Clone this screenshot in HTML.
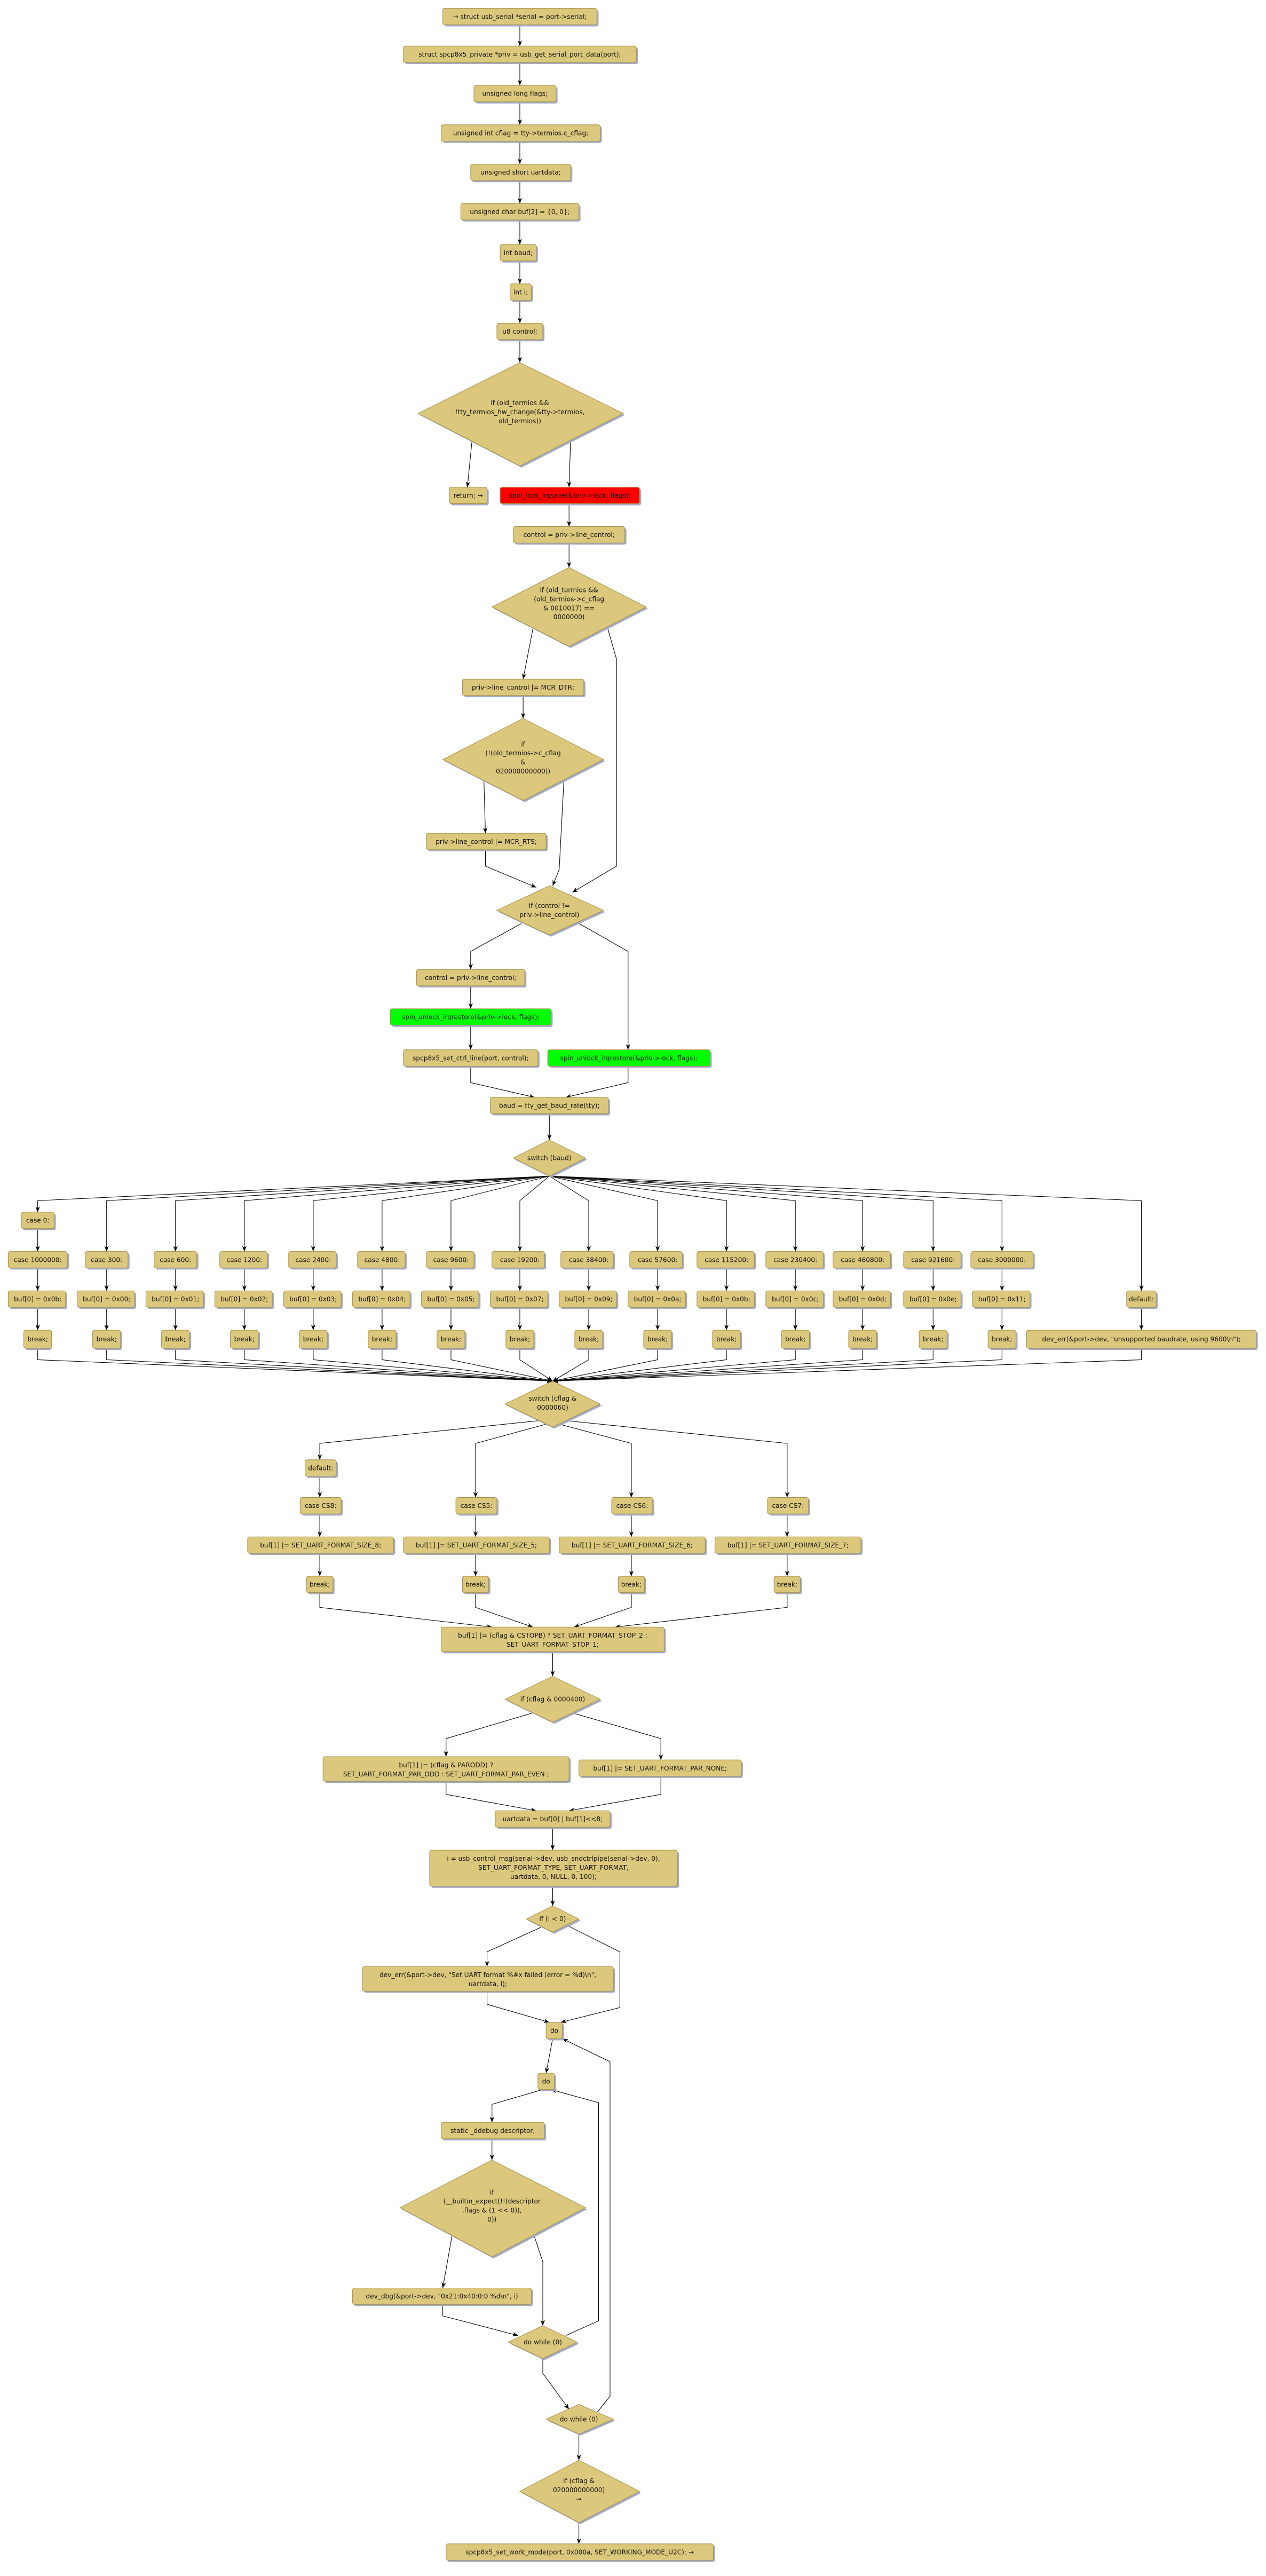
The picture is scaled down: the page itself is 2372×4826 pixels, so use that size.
<!DOCTYPE html>
<html><head><meta charset="utf-8"><style>
html,body{margin:0;padding:0;background:#fff}
svg{display:block}
.s{fill:#a3abc6}
.n{fill:#dcc87c;stroke:#a8914a;stroke-width:0.35}
.r{fill:#ff0000;stroke:#a8914a;stroke-width:0.35}
.g{fill:#00ff00;stroke:#a8914a;stroke-width:0.35}
text{font-family:"DejaVu Sans","Liberation Sans",sans-serif;font-size:3.95px;text-anchor:middle;fill:#111}
.e{fill:none;stroke:#000;stroke-width:0.35;marker-end:url(#a)}
</style></head><body>
<svg width="2372" height="4826" viewBox="0 0 772 1570.5" xmlns="http://www.w3.org/2000/svg">
<defs><marker id="a" viewBox="0 0 10 10" refX="10" refY="5" markerWidth="3.4" markerHeight="3.4" markerUnits="userSpaceOnUse" orient="auto"><path d="M0,1 L10,5 L0,9 L3,5 z" fill="#000"/></marker></defs>

<!-- edges -->
<path class="e" d="M317,15 V28"/>
<path class="e" d="M317,38 V52"/>
<path class="e" d="M317,62 V76"/>
<path class="e" d="M317,86 V100"/>
<path class="e" d="M317,110 V124"/>
<path class="e" d="M317,134 V149"/>
<path class="e" d="M317,159 V173"/>
<path class="e" d="M317,183 V197"/>
<path class="e" d="M317,207 V221"/>
<path class="e" d="M288,267 L285,297"/>
<path class="e" d="M348,267 L347,297"/>
<path class="e" d="M347,307 V321"/>
<path class="e" d="M347,331 V346"/>
<path class="e" d="M325,383 L319,414"/>
<path class="e" d="M370,381 L376,402 V528 L349,544"/>
<path class="e" d="M319,424 V438"/>
<path class="e" d="M295,473 L296,508"/>
<path class="e" d="M344,473 L341,530 L337,540"/>
<path class="e" d="M296,518 V528 L327,541"/>
<path class="e" d="M318,563 L287,580 V591"/>
<path class="e" d="M353,563 L383,580 V640"/>
<path class="e" d="M287,601 V615"/>
<path class="e" d="M287,625 V640"/>
<path class="e" d="M287,650 V660 L326,669"/>
<path class="e" d="M383,650 V660 L345,669"/>
<path class="e" d="M335,679 V695"/>

<path class="e" d="M335,717 L23,732 V739"/>
<path class="e" d="M23,749 V763"/>
<path class="e" d="M335,717 L65,732 V763"/>
<path class="e" d="M335,717 L107,732 V763"/>
<path class="e" d="M335,717 L149,732 V763"/>
<path class="e" d="M335,717 L191,732 V763"/>
<path class="e" d="M335,717 L233,732 V763"/>
<path class="e" d="M335,717 L275,732 V763"/>
<path class="e" d="M335,717 L317,732 V763"/>
<path class="e" d="M335,717 L359,732 V763"/>
<path class="e" d="M335,717 L401,732 V763"/>
<path class="e" d="M335,717 L443,732 V763"/>
<path class="e" d="M335,717 L485,732 V763"/>
<path class="e" d="M335,717 L526,732 V763"/>
<path class="e" d="M335,717 L569,732 V763"/>
<path class="e" d="M335,717 L611,732 V763"/>
<path class="e" d="M335,717 L696,732 V787"/>
<path class="e" d="M23,773 V787"/><path class="e" d="M65,773 V787"/><path class="e" d="M107,773 V787"/><path class="e" d="M149,773 V787"/><path class="e" d="M191,773 V787"/><path class="e" d="M233,773 V787"/><path class="e" d="M275,773 V787"/><path class="e" d="M317,773 V787"/><path class="e" d="M359,773 V787"/><path class="e" d="M401,773 V787"/><path class="e" d="M443,773 V787"/><path class="e" d="M485,773 V787"/><path class="e" d="M526,773 V787"/><path class="e" d="M569,773 V787"/><path class="e" d="M611,773 V787"/>
<path class="e" d="M23,797 V811"/><path class="e" d="M65,797 V811"/><path class="e" d="M107,797 V811"/><path class="e" d="M149,797 V811"/><path class="e" d="M191,797 V811"/><path class="e" d="M233,797 V811"/><path class="e" d="M275,797 V811"/><path class="e" d="M317,797 V811"/><path class="e" d="M359,797 V811"/><path class="e" d="M401,797 V811"/><path class="e" d="M443,797 V811"/><path class="e" d="M485,797 V811"/><path class="e" d="M526,797 V811"/><path class="e" d="M569,797 V811"/><path class="e" d="M611,797 V811"/><path class="e" d="M696,797 V811"/>
<path class="e" d="M23,822 V829 L337,842"/><path class="e" d="M65,822 V829 L337,842"/><path class="e" d="M107,822 V829 L337,842"/><path class="e" d="M149,822 V829 L337,842"/><path class="e" d="M191,822 V829 L337,842"/><path class="e" d="M233,822 V829 L337,842"/><path class="e" d="M275,822 V829 L337,842"/><path class="e" d="M317,822 V829 L337,842"/><path class="e" d="M359,822 V829 L337,842"/><path class="e" d="M401,822 V829 L337,842"/><path class="e" d="M443,822 V829 L337,842"/><path class="e" d="M485,822 V829 L337,842"/><path class="e" d="M526,822 V829 L337,842"/><path class="e" d="M569,822 V829 L337,842"/><path class="e" d="M611,822 V829 L337,842"/><path class="e" d="M696,822 V829 L337,842"/>

<path class="e" d="M330,866 L195,880 V890"/>
<path class="e" d="M334,868 L290,880 V913"/>
<path class="e" d="M340,868 L385,880 V913"/>
<path class="e" d="M344,866 L480,880 V913"/>
<path class="e" d="M195,900 V913"/>
<path class="e" d="M195,923 V937"/><path class="e" d="M290,923 V937"/><path class="e" d="M385,923 V937"/><path class="e" d="M480,923 V937"/>
<path class="e" d="M195,947 V961"/><path class="e" d="M290,947 V961"/><path class="e" d="M385,947 V961"/><path class="e" d="M480,947 V961"/>
<path class="e" d="M195,971 V980 L300,992"/>
<path class="e" d="M290,971 V980 L325,992"/>
<path class="e" d="M385,971 V980 L350,992"/>
<path class="e" d="M480,971 V980 L375,992"/>
<path class="e" d="M337,1007 V1022"/>
<path class="e" d="M326,1044 L272,1060 V1071"/>
<path class="e" d="M348,1044 L403,1060 V1073"/>
<path class="e" d="M272,1086 V1094 L327,1104"/>
<path class="e" d="M403,1083 V1094 L347,1104"/>
<path class="e" d="M337,1114 V1128"/>
<path class="e" d="M337,1150 V1162"/>
<path class="e" d="M330,1175 L297,1190 V1199"/>
<path class="e" d="M346,1174 L378,1190 V1224 L342,1233"/>
<path class="e" d="M297,1214 V1222 L335,1233"/>
<path class="e" d="M337,1243 L333,1264"/>
<path class="e" d="M331,1274 L300,1283 V1294"/>
<path class="e" d="M300,1304 V1317"/>
<path class="e" d="M276,1361 L270,1395"/>
<path class="e" d="M325,1361 L331,1379 V1418"/>
<path class="e" d="M270,1405 V1412 L316,1424"/>
<path class="e" d="M345,1424 L365,1415 V1282 L336,1274"/>
<path class="e" d="M331,1438 V1447 L347,1469"/>
<path class="e" d="M364,1471 L372,1461 V1257 L343,1243"/>
<path class="e" d="M353,1484 V1500"/>
<path class="e" d="M353,1538 V1551"/>

<g>
<rect class="s" x="271" y="6" width="94" height="10" rx="1.2"/><rect class="n" x="270" y="5" width="94" height="10" rx="1.2"/><text x="317" y="11.4">→ struct usb_serial *serial = port-&gt;serial;</text>
<rect class="s" x="247" y="29" width="142" height="10" rx="1.2"/><rect class="n" x="246" y="28" width="142" height="10" rx="1.2"/><text x="317" y="34.4">struct spcp8x5_private *priv = usb_get_serial_port_data(port);</text>
<rect class="s" x="290" y="53" width="50" height="10" rx="1.2"/><rect class="n" x="289" y="52" width="50" height="10" rx="1.2"/><text x="314" y="58.4">unsigned long flags;</text>
<rect class="s" x="270" y="77" width="97" height="10" rx="1.2"/><rect class="n" x="269" y="76" width="97" height="10" rx="1.2"/><text x="317.5" y="82.4">unsigned int cflag = tty-&gt;termios.c_cflag;</text>
<rect class="s" x="288" y="101" width="61" height="10" rx="1.2"/><rect class="n" x="287" y="100" width="61" height="10" rx="1.2"/><text x="317.5" y="106.4">unsigned short uartdata;</text>
<rect class="s" x="282" y="125" width="72" height="10" rx="1.2"/><rect class="n" x="281" y="124" width="72" height="10" rx="1.2"/><text x="317" y="130.4">unsigned char buf[2] = {0, 0};</text>
<rect class="s" x="306" y="150" width="22" height="10" rx="1.2"/><rect class="n" x="305" y="149" width="22" height="10" rx="1.2"/><text x="316" y="155.4">int baud;</text>
<rect class="s" x="312" y="174" width="13" height="10" rx="1.2"/><rect class="n" x="311" y="173" width="13" height="10" rx="1.2"/><text x="317.5" y="179.4">int i;</text>
<rect class="s" x="304" y="198" width="28" height="10" rx="1.2"/><rect class="n" x="303" y="197" width="28" height="10" rx="1.2"/><text x="317" y="203.4">u8 control;</text>

<polygon class="s" points="318,222 381,253 318,285 256,253"/><polygon class="n" points="317,221 380,252 317,284 255,252" stroke-width="0"/>
<text x="317" y="247">if (old_termios &amp;&amp;</text><text x="317" y="252.5">!tty_termios_hw_change(&amp;tty-&gt;termios,</text><text x="317" y="258">old_termios))</text>

<rect class="s" x="275" y="298" width="23" height="10" rx="1.2"/><rect class="n" x="274" y="297" width="23" height="10" rx="1.2"/><text x="285.5" y="303.4">return; →</text>
<rect class="s" x="306" y="298" width="85" height="10" rx="1.2"/><rect class="r" x="305" y="297" width="85" height="10" rx="1.2"/><text x="347.5" y="303.4">spin_lock_irqsave(&amp;priv-&gt;lock, flags);</text>
<rect class="s" x="314" y="322" width="68" height="10" rx="1.2"/><rect class="n" x="313" y="321" width="68" height="10" rx="1.2"/><text x="347" y="327.4">control = priv-&gt;line_control;</text>

<polygon class="s" points="348,347 395,371 348,395 301,371"/><polygon class="n" points="347,346 394,370 347,394 300,370"/>
<text x="347" y="361">if (old_termios &amp;&amp;</text><text x="347" y="366.5">(old_termios-&gt;c_cflag</text><text x="347" y="372">&amp; 0010017) ==</text><text x="347" y="377.5">0000000)</text>

<rect class="s" x="283" y="415" width="74" height="10" rx="1.2"/><rect class="n" x="282" y="414" width="74" height="10" rx="1.2"/><text x="319" y="420.4">priv-&gt;line_control |= MCR_DTR;</text>
<polygon class="s" points="320,439 369,464 320,489 271,464"/><polygon class="n" points="319,438 368,463 319,488 270,463"/>
<text x="319" y="455">if</text><text x="319" y="460.5">(!(old_termios-&gt;c_cflag</text><text x="319" y="466">&amp;</text><text x="319" y="471.5">020000000000))</text>
<rect class="s" x="261" y="509" width="73" height="10" rx="1.2"/><rect class="n" x="260" y="508" width="73" height="10" rx="1.2"/><text x="296.5" y="514.4">priv-&gt;line_control |= MCR_RTS;</text>

<polygon class="s" points="336,541 369,556 336,571 304,556"/><polygon class="n" points="335,540 368,555 335,570 303,555"/>
<text x="335" y="553.5">if (control !=</text><text x="335" y="559">priv-&gt;line_control)</text>

<rect class="s" x="255" y="592" width="66" height="10" rx="1.2"/><rect class="n" x="254" y="591" width="66" height="10" rx="1.2"/><text x="287" y="597.4">control = priv-&gt;line_control;</text>
<rect class="s" x="239" y="616" width="98" height="10" rx="1.2"/><rect class="g" x="238" y="615" width="98" height="10" rx="1.2"/><text x="287" y="621.4">spin_unlock_irqrestore(&amp;priv-&gt;lock, flags);</text>
<rect class="s" x="247" y="641" width="82" height="10" rx="1.2"/><rect class="n" x="246" y="640" width="82" height="10" rx="1.2"/><text x="287" y="646.4">spcp8x5_set_ctrl_line(port, control);</text>
<rect class="s" x="335" y="641" width="99" height="10" rx="1.2"/><rect class="g" x="334" y="640" width="99" height="10" rx="1.2"/><text x="383.5" y="646.4">spin_unlock_irqrestore(&amp;priv-&gt;lock, flags);</text>
<rect class="s" x="300" y="670" width="72" height="10" rx="1.2"/><rect class="n" x="299" y="669" width="72" height="10" rx="1.2"/><text x="335" y="675.4">baud = tty_get_baud_rate(tty);</text>

<polygon class="s" points="336,696 358,707 336,718 314,707"/><polygon class="n" points="335,695 357,706 335,717 313,706"/>
<text x="335" y="707.3">switch (baud)</text>

<rect class="s" x="14" y="740" width="20" height="10" rx="1.2"/><rect class="n" x="13" y="739" width="20" height="10" rx="1.2"/><text x="23" y="745.4">case 0:</text>
<rect class="s" x="6" y="764" width="36" height="10" rx="1.2"/><rect class="n" x="5" y="763" width="36" height="10" rx="1.2"/><text x="23" y="769.4">case 1000000:</text>
<rect class="s" x="53" y="764" width="26" height="10" rx="1.2"/><rect class="n" x="52" y="763" width="26" height="10" rx="1.2"/><text x="65" y="769.4">case 300:</text>
<rect class="s" x="95" y="764" width="26" height="10" rx="1.2"/><rect class="n" x="94" y="763" width="26" height="10" rx="1.2"/><text x="107" y="769.4">case 600:</text>
<rect class="s" x="135" y="764" width="29" height="10" rx="1.2"/><rect class="n" x="134" y="763" width="29" height="10" rx="1.2"/><text x="149" y="769.4">case 1200:</text>
<rect class="s" x="177" y="764" width="29" height="10" rx="1.2"/><rect class="n" x="176" y="763" width="29" height="10" rx="1.2"/><text x="191" y="769.4">case 2400:</text>
<rect class="s" x="219" y="764" width="29" height="10" rx="1.2"/><rect class="n" x="218" y="763" width="29" height="10" rx="1.2"/><text x="233" y="769.4">case 4800:</text>
<rect class="s" x="261" y="764" width="29" height="10" rx="1.2"/><rect class="n" x="260" y="763" width="29" height="10" rx="1.2"/><text x="275" y="769.4">case 9600:</text>
<rect class="s" x="301" y="764" width="32" height="10" rx="1.2"/><rect class="n" x="300" y="763" width="32" height="10" rx="1.2"/><text x="317" y="769.4">case 19200:</text>
<rect class="s" x="343" y="764" width="32" height="10" rx="1.2"/><rect class="n" x="342" y="763" width="32" height="10" rx="1.2"/><text x="359" y="769.4">case 38400:</text>
<rect class="s" x="385" y="764" width="32" height="10" rx="1.2"/><rect class="n" x="384" y="763" width="32" height="10" rx="1.2"/><text x="401" y="769.4">case 57600:</text>
<rect class="s" x="426" y="764" width="35" height="10" rx="1.2"/><rect class="n" x="425" y="763" width="35" height="10" rx="1.2"/><text x="443" y="769.4">case 115200:</text>
<rect class="s" x="468" y="764" width="35" height="10" rx="1.2"/><rect class="n" x="467" y="763" width="35" height="10" rx="1.2"/><text x="485" y="769.4">case 230400:</text>
<rect class="s" x="509" y="764" width="35" height="10" rx="1.2"/><rect class="n" x="508" y="763" width="35" height="10" rx="1.2"/><text x="526" y="769.4">case 460800:</text>
<rect class="s" x="552" y="764" width="35" height="10" rx="1.2"/><rect class="n" x="551" y="763" width="35" height="10" rx="1.2"/><text x="569" y="769.4">case 921600:</text>
<rect class="s" x="593" y="764" width="38" height="10" rx="1.2"/><rect class="n" x="592" y="763" width="38" height="10" rx="1.2"/><text x="611" y="769.4">case 3000000:</text>
<rect class="s" x="6" y="788" width="35" height="10" rx="1.2"/><rect class="n" x="5" y="787" width="35" height="10" rx="1.2"/><text x="23" y="793.4">buf[0] = 0x0b;</text>
<rect class="s" x="48" y="788" width="35" height="10" rx="1.2"/><rect class="n" x="47" y="787" width="35" height="10" rx="1.2"/><text x="65" y="793.4">buf[0] = 0x00;</text>
<rect class="s" x="90" y="788" width="35" height="10" rx="1.2"/><rect class="n" x="89" y="787" width="35" height="10" rx="1.2"/><text x="107" y="793.4">buf[0] = 0x01;</text>
<rect class="s" x="132" y="788" width="35" height="10" rx="1.2"/><rect class="n" x="131" y="787" width="35" height="10" rx="1.2"/><text x="149" y="793.4">buf[0] = 0x02;</text>
<rect class="s" x="174" y="788" width="35" height="10" rx="1.2"/><rect class="n" x="173" y="787" width="35" height="10" rx="1.2"/><text x="191" y="793.4">buf[0] = 0x03;</text>
<rect class="s" x="216" y="788" width="35" height="10" rx="1.2"/><rect class="n" x="215" y="787" width="35" height="10" rx="1.2"/><text x="233" y="793.4">buf[0] = 0x04;</text>
<rect class="s" x="258" y="788" width="35" height="10" rx="1.2"/><rect class="n" x="257" y="787" width="35" height="10" rx="1.2"/><text x="275" y="793.4">buf[0] = 0x05;</text>
<rect class="s" x="300" y="788" width="35" height="10" rx="1.2"/><rect class="n" x="299" y="787" width="35" height="10" rx="1.2"/><text x="317" y="793.4">buf[0] = 0x07;</text>
<rect class="s" x="342" y="788" width="35" height="10" rx="1.2"/><rect class="n" x="341" y="787" width="35" height="10" rx="1.2"/><text x="359" y="793.4">buf[0] = 0x09;</text>
<rect class="s" x="384" y="788" width="35" height="10" rx="1.2"/><rect class="n" x="383" y="787" width="35" height="10" rx="1.2"/><text x="401" y="793.4">buf[0] = 0x0a;</text>
<rect class="s" x="426" y="788" width="35" height="10" rx="1.2"/><rect class="n" x="425" y="787" width="35" height="10" rx="1.2"/><text x="443" y="793.4">buf[0] = 0x0b;</text>
<rect class="s" x="468" y="788" width="35" height="10" rx="1.2"/><rect class="n" x="467" y="787" width="35" height="10" rx="1.2"/><text x="485" y="793.4">buf[0] = 0x0c;</text>
<rect class="s" x="509" y="788" width="35" height="10" rx="1.2"/><rect class="n" x="508" y="787" width="35" height="10" rx="1.2"/><text x="526" y="793.4">buf[0] = 0x0d;</text>
<rect class="s" x="552" y="788" width="35" height="10" rx="1.2"/><rect class="n" x="551" y="787" width="35" height="10" rx="1.2"/><text x="569" y="793.4">buf[0] = 0x0e;</text>
<rect class="s" x="594" y="788" width="35" height="10" rx="1.2"/><rect class="n" x="593" y="787" width="35" height="10" rx="1.2"/><text x="611" y="793.4">buf[0] = 0x11;</text>
<rect class="s" x="688" y="788" width="18" height="10" rx="1.2"/><rect class="n" x="687" y="787" width="18" height="10" rx="1.2"/><text x="696" y="793.4">default:</text>
<rect class="s" x="15.5" y="812" width="16" height="11" rx="1.2"/><rect class="n" x="14.5" y="811" width="17" height="11" rx="1.2"/><text x="23" y="817.8">break;</text>
<rect class="s" x="57.5" y="812" width="17" height="11" rx="1.2"/><rect class="n" x="56.5" y="811" width="17" height="11" rx="1.2"/><text x="65" y="817.8">break;</text>
<rect class="s" x="99.5" y="812" width="17" height="11" rx="1.2"/><rect class="n" x="98.5" y="811" width="17" height="11" rx="1.2"/><text x="107" y="817.8">break;</text>
<rect class="s" x="141.5" y="812" width="17" height="11" rx="1.2"/><rect class="n" x="140.5" y="811" width="17" height="11" rx="1.2"/><text x="149" y="817.8">break;</text>
<rect class="s" x="183.5" y="812" width="17" height="11" rx="1.2"/><rect class="n" x="182.5" y="811" width="17" height="11" rx="1.2"/><text x="191" y="817.8">break;</text>
<rect class="s" x="225.5" y="812" width="17" height="11" rx="1.2"/><rect class="n" x="224.5" y="811" width="17" height="11" rx="1.2"/><text x="233" y="817.8">break;</text>
<rect class="s" x="267.5" y="812" width="17" height="11" rx="1.2"/><rect class="n" x="266.5" y="811" width="17" height="11" rx="1.2"/><text x="275" y="817.8">break;</text>
<rect class="s" x="309.5" y="812" width="17" height="11" rx="1.2"/><rect class="n" x="308.5" y="811" width="17" height="11" rx="1.2"/><text x="317" y="817.8">break;</text>
<rect class="s" x="351.5" y="812" width="17" height="11" rx="1.2"/><rect class="n" x="350.5" y="811" width="17" height="11" rx="1.2"/><text x="359" y="817.8">break;</text>
<rect class="s" x="393.5" y="812" width="17" height="11" rx="1.2"/><rect class="n" x="392.5" y="811" width="17" height="11" rx="1.2"/><text x="401" y="817.8">break;</text>
<rect class="s" x="435.5" y="812" width="17" height="11" rx="1.2"/><rect class="n" x="434.5" y="811" width="17" height="11" rx="1.2"/><text x="443" y="817.8">break;</text>
<rect class="s" x="477.5" y="812" width="17" height="11" rx="1.2"/><rect class="n" x="476.5" y="811" width="17" height="11" rx="1.2"/><text x="485" y="817.8">break;</text>
<rect class="s" x="518.5" y="812" width="17" height="11" rx="1.2"/><rect class="n" x="517.5" y="811" width="17" height="11" rx="1.2"/><text x="526" y="817.8">break;</text>
<rect class="s" x="561.5" y="812" width="17" height="11" rx="1.2"/><rect class="n" x="560.5" y="811" width="17" height="11" rx="1.2"/><text x="569" y="817.8">break;</text>
<rect class="s" x="603.5" y="812" width="17" height="11" rx="1.2"/><rect class="n" x="602.5" y="811" width="17" height="11" rx="1.2"/><text x="611" y="817.8">break;</text>
<rect class="s" x="627" y="812" width="140" height="11" rx="1.2"/><rect class="n" x="626" y="811" width="140" height="11" rx="1.2"/><text x="696" y="817.8">dev_err(&amp;port-&gt;dev, "unsupported baudrate, using 9600\n");</text>

<polygon class="s" points="338,843 367,857 338,871 309,857"/><polygon class="n" points="337,842 366,856 337,870 308,856"/>
<text x="337" y="854">switch (cflag &amp;</text><text x="337" y="859.5">0000060)</text>

<rect class="s" x="187" y="891" width="19" height="10" rx="1.2"/><rect class="n" x="186" y="890" width="19" height="10" rx="1.2"/><text x="195.5" y="896.4">default:</text>
<rect class="s" x="184" y="914" width="25" height="10" rx="1.2"/><rect class="n" x="183" y="913" width="25" height="10" rx="1.2"/><text x="195.5" y="919.4">case CS8:</text>
<rect class="s" x="279" y="914" width="25" height="10" rx="1.2"/><rect class="n" x="278" y="913" width="25" height="10" rx="1.2"/><text x="290.5" y="919.4">case CS5:</text>
<rect class="s" x="374" y="914" width="25" height="10" rx="1.2"/><rect class="n" x="373" y="913" width="25" height="10" rx="1.2"/><text x="385.5" y="919.4">case CS6:</text>
<rect class="s" x="469" y="914" width="25" height="10" rx="1.2"/><rect class="n" x="468" y="913" width="25" height="10" rx="1.2"/><text x="480.5" y="919.4">case CS7:</text>
<rect class="s" x="152" y="938" width="89" height="10" rx="1.2"/><rect class="n" x="151" y="937" width="89" height="10" rx="1.2"/><text x="195.5" y="943.4">buf[1] |= SET_UART_FORMAT_SIZE_8;</text>
<rect class="s" x="247" y="938" width="89" height="10" rx="1.2"/><rect class="n" x="246" y="937" width="89" height="10" rx="1.2"/><text x="290.5" y="943.4">buf[1] |= SET_UART_FORMAT_SIZE_5;</text>
<rect class="s" x="342" y="938" width="89" height="10" rx="1.2"/><rect class="n" x="341" y="937" width="89" height="10" rx="1.2"/><text x="385.5" y="943.4">buf[1] |= SET_UART_FORMAT_SIZE_6;</text>
<rect class="s" x="437" y="938" width="89" height="10" rx="1.2"/><rect class="n" x="436" y="937" width="89" height="10" rx="1.2"/><text x="480.5" y="943.4">buf[1] |= SET_UART_FORMAT_SIZE_7;</text>
<rect class="s" x="188" y="962" width="16" height="10" rx="1.2"/><rect class="n" x="187" y="961" width="16" height="10" rx="1.2"/><text x="195" y="967.4">break;</text>
<rect class="s" x="283" y="962" width="16" height="10" rx="1.2"/><rect class="n" x="282" y="961" width="16" height="10" rx="1.2"/><text x="290" y="967.4">break;</text>
<rect class="s" x="378" y="962" width="16" height="10" rx="1.2"/><rect class="n" x="377" y="961" width="16" height="10" rx="1.2"/><text x="385" y="967.4">break;</text>
<rect class="s" x="473" y="962" width="16" height="10" rx="1.2"/><rect class="n" x="472" y="961" width="16" height="10" rx="1.2"/><text x="480" y="967.4">break;</text>

<rect class="s" x="270" y="993" width="136" height="15" rx="1.2"/><rect class="n" x="269" y="992" width="136" height="15" rx="1.2"/><text x="337" y="998.5">buf[1] |= (cflag &amp; CSTOPB) ? SET_UART_FORMAT_STOP_2 :</text><text x="337" y="1004">SET_UART_FORMAT_STOP_1;</text>

<polygon class="s" points="338,1023 367,1037 338,1051 309,1037"/><polygon class="n" points="337,1022 366,1036 337,1050 308,1036"/>
<text x="337" y="1037.3">if (cflag &amp; 0000400)</text>

<rect class="s" x="198" y="1072" width="150" height="15" rx="1.2"/><rect class="n" x="197" y="1071" width="150" height="15" rx="1.2"/><text x="272" y="1077.5">buf[1] |= (cflag &amp; PARODD) ?</text><text x="272" y="1083">SET_UART_FORMAT_PAR_ODD : SET_UART_FORMAT_PAR_EVEN ;</text>
<rect class="s" x="354" y="1074" width="99" height="10" rx="1.2"/><rect class="n" x="353" y="1073" width="99" height="10" rx="1.2"/><text x="402.5" y="1079.4">buf[1] |= SET_UART_FORMAT_PAR_NONE;</text>
<rect class="s" x="303" y="1105" width="70" height="10" rx="1.2"/><rect class="n" x="302" y="1104" width="70" height="10" rx="1.2"/><text x="337" y="1110.4">uartdata = buf[0] | buf[1]&lt;&lt;8;</text>
<rect class="s" x="263" y="1129" width="151" height="22" rx="1.2"/><rect class="n" x="262" y="1128" width="151" height="22" rx="1.2"/><text x="337.5" y="1134.5">i = usb_control_msg(serial-&gt;dev, usb_sndctrlpipe(serial-&gt;dev, 0),</text><text x="337.5" y="1140">SET_UART_FORMAT_TYPE, SET_UART_FORMAT,</text><text x="337.5" y="1145.5">uartdata, 0, NULL, 0, 100);</text>

<polygon class="s" points="338,1163 354,1171 338,1179 322,1171"/><polygon class="n" points="337,1162 353,1170 337,1178 321,1170"/>
<text x="337" y="1171.3">if (i &lt; 0)</text>

<rect class="s" x="222" y="1200" width="153" height="15" rx="1.2"/><rect class="n" x="221" y="1199" width="153" height="15" rx="1.2"/><text x="297.5" y="1205.5">dev_err(&amp;port-&gt;dev, "Set UART format %#x failed (error = %d)\n",</text><text x="297.5" y="1211">uartdata, i);</text>

<rect class="s" x="334" y="1234" width="10" height="10" rx="1.2"/><rect class="n" x="333" y="1233" width="10" height="10" rx="1.2"/><text x="338" y="1239.4">do</text>
<rect class="s" x="329" y="1265" width="10" height="10" rx="1.2"/><rect class="n" x="328" y="1264" width="10" height="10" rx="1.2"/><text x="333" y="1270.4">do</text>
<rect class="s" x="270" y="1295" width="63" height="10" rx="1.2"/><rect class="n" x="269" y="1294" width="63" height="10" rx="1.2"/><text x="300.5" y="1300.4">static _ddebug descriptor;</text>

<polygon class="s" points="301,1318 358,1347 301,1377 245,1347"/><polygon class="n" points="300,1317 357,1346 300,1376 244,1346"/>
<text x="300" y="1338">if</text><text x="300" y="1343.5">(__builtin_expect(!!(descriptor</text><text x="300" y="1349">.flags &amp; (1 &lt;&lt; 0)),</text><text x="300" y="1354.5">0))</text>

<rect class="s" x="216" y="1396" width="109" height="10" rx="1.2"/><rect class="n" x="215" y="1395" width="109" height="10" rx="1.2"/><text x="269.5" y="1401.4">dev_dbg(&amp;port-&gt;dev, "0x21:0x40:0:0  %d\n", i)</text>

<polygon class="s" points="332,1419 353,1429 332,1439 311,1429"/><polygon class="n" points="331,1418 352,1428 331,1438 310,1428"/>
<text x="331" y="1429.3">do while (0)</text>
<polygon class="s" points="354,1467 375,1476 354,1485 334,1476"/><polygon class="n" points="353,1466 374,1475 353,1484 333,1475"/>
<text x="353" y="1476.3">do while (0)</text>

<polygon class="s" points="354,1501 391,1520 354,1539 318,1520"/><polygon class="n" points="353,1500 390,1519 353,1538 317,1519"/>
<text x="353" y="1514">if (cflag &amp;</text><text x="353" y="1519.5">020000000000)</text><text x="353" y="1525">→</text>

<rect class="s" x="273" y="1552" width="163" height="10" rx="1.2"/><rect class="n" x="272" y="1551" width="163" height="10" rx="1.2"/><text x="353.5" y="1557.4">spcp8x5_set_work_mode(port, 0x000a, SET_WORKING_MODE_U2C); →</text>
</g>
</svg>
</body></html>
